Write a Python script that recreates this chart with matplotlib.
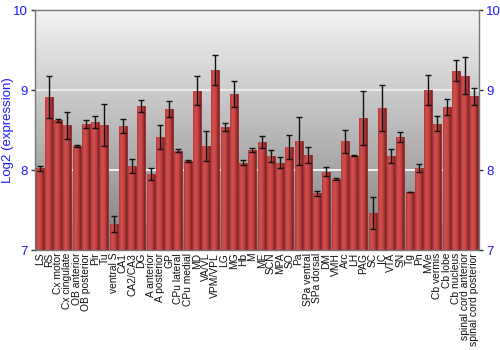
import matplotlib
matplotlib.use("Agg")
import matplotlib.pyplot as plt
import numpy as np
from matplotlib.colors import LinearSegmentedColormap

plt.rcParams['font.family'] = ['Liberation Sans', 'DejaVu Sans']

categories = ["LS", "RS", "Cx motor", "Cx cingulate", "OB anterior", "OB posterior", "Pir", "Tu",
              "ventral S", "CA1", "CA2/CA3", "DG", "A anterior", "A posterior", "GP", "CPu lateral",
              "CPu medial", "MD", "VA/VL", "VPM/VPL", "LG", "MG", "Hb", "M", "ME", "SCN", "MPA",
              "SO", "Pa", "SPa ventral", "SPa dorsal", "DM", "VMH", "Arc", "LH", "PAG", "SC", "IC",
              "VTA", "SN", "Tg", "Pn", "MVe", "Cb vermis", "Cb lobe", "Cb nucleus",
              "spinal cord anterior", "spinal cord posterior"]
values = [8.02, 8.91, 8.62, 8.56, 8.30, 8.575, 8.60, 8.56,
          7.325, 8.55, 8.05, 8.80, 7.95, 8.41, 8.76, 8.24,
          8.11, 8.99, 8.30, 9.25, 8.54, 8.95, 8.09, 8.25, 8.35, 8.175, 8.09,
          8.29, 8.36, 8.19, 7.71, 7.98, 7.89, 8.36, 8.18, 8.65, 7.46, 8.775,
          8.175, 8.41, 7.725, 8.03, 9.00, 8.58, 8.79, 9.24,
          9.18, 8.92]
errors = [0.03, 0.26, 0.02, 0.17, 0.01, 0.045, 0.08, 0.26,
          0.095, 0.09, 0.085, 0.08, 0.07, 0.15, 0.10, 0.02,
          0.01, 0.18, 0.19, 0.19, 0.05, 0.16, 0.03, 0.03, 0.08, 0.08, 0.07,
          0.15, 0.30, 0.10, 0.03, 0.055, 0.01, 0.145, 0.01, 0.34, 0.20, 0.29,
          0.085, 0.06, 0.005, 0.05, 0.185, 0.09, 0.10, 0.13,
          0.23, 0.11]
y_ticks = [7, 8, 9, 10]
y_label = "Log2 (expression)"

fig = plt.figure(figsize=(5, 3.5), dpi=100)
ax = fig.add_axes([0.07, 0.2857, 0.888, 0.6857])

n = len(categories)
x = np.arange(n)
ymin, ymax = 7, 10
ax.set_xlim(-0.5, n - 0.5)
ax.set_ylim(ymin, ymax)

# background gradient: light at top, grey at bottom
bg = LinearSegmentedColormap.from_list("bg", ["#7f7f7f", "#f3f3f3"])
grad = np.linspace(0, 1, 256).reshape(-1, 1)
ax.imshow(grad, extent=[-0.5, n - 0.5, ymin, ymax], origin="lower", cmap=bg,
          aspect="auto", zorder=0)

# gridlines
ax.axhline(9, color="#ececec", lw=1.5, zorder=1)
ax.axhline(8, color="#ffffff", lw=1.2, zorder=1)

bars = ax.bar(x, [v - ymin for v in values], bottom=ymin, width=0.86,
              color="#b83838", edgecolor="#8a2a2a", linewidth=0.6, zorder=2)
barcm = LinearSegmentedColormap.from_list("bar", ["#b43636", "#d05050", "#cc4a4a", "#b43838", "#801f1f"])
hgrad = np.linspace(0, 1, 64).reshape(1, -1)
for b in bars:
    x0 = b.get_x()
    w = b.get_width()
    im = ax.imshow(hgrad, extent=[x0, x0 + w, ymin, ymin + b.get_height()], cmap=barcm,
                   aspect="auto", zorder=2.5)
    im.set_clip_path(b)

ax.errorbar(x, values, yerr=errors, fmt="none", ecolor="#111111", elinewidth=1.0,
            capsize=2.2, capthick=1.0, zorder=4)

ax.set_xlim(-0.5, n - 0.5)
ax.set_ylim(ymin, ymax)
ax.set_yticks(y_ticks)
ax.set_yticklabels([str(t) for t in y_ticks], color="#1a1aff", fontsize=9.5)
ax.tick_params(axis="y", which="both", left=True, right=True, labelleft=True, labelright=True,
               direction="out", length=3, width=1, color="#333333", pad=2)
ax.set_xticks(x)
ax.set_xticklabels(categories, rotation=90, fontsize=7.4, color="#111111")
ax.tick_params(axis="x", length=0, pad=2)
ax.set_ylabel(y_label, color="#1a1aff", fontsize=9.5)
ax.yaxis.set_label_coords(-0.047, 0.5)

for s in ax.spines.values():
    s.set_color("#777777")
    s.set_linewidth(1)

fig.savefig("out.png", dpi=100)
